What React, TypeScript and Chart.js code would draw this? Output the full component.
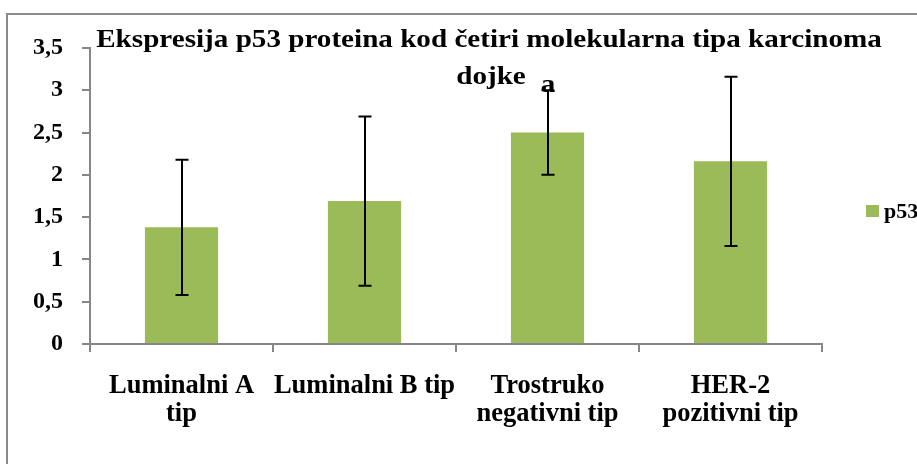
import React, { useEffect, useRef } from "react";
import { Chart, registerables } from "chart.js";

Chart.register(...registerables);

const titleLines = ["Ekspresija p53 proteina kod četiri molekularna tipa karcinoma", "dojke"];
const categories: (string | string[])[] = [
  ["Luminalni A", "tip"],
  "Luminalni B tip",
  ["Trostruko", "negativni tip"],
  ["HER-2", "pozitivni tip"],
];
const seriesName = "p53";
const p53Values = [1.38, 1.69, 2.5, 2.16];
const p53Errors = [0.8, 1.0, 0.5, 1.0];
const annotations = ["", "", "a", ""];
const yTicks = [0, 0.5, 1, 1.5, 2, 2.5, 3, 3.5];

const BAR_COLOR = "#9BBB59";
const AXIS_COLOR = "#868686";
const FONT = "'Liberation Serif', 'Times New Roman', serif";
const W = 917;
const H = 464;
const TITLE_SIZE = 25;
const TITLE_STRETCH = 1.165;

function stretchedText(ctx: CanvasRenderingContext2D, text: string, x: number, y: number, sx: number) {
  ctx.save();
  ctx.translate(x, y);
  ctx.scale(sx, 1);
  ctx.fillText(text, 0, 0);
  ctx.restore();
}

const overlayPlugin = {
  id: "overlay",
  afterDatasetsDraw(chart: any) {
    const ctx = chart.ctx;
    const meta = chart.getDatasetMeta(0);
    const y = chart.scales.y;
    ctx.save();
    ctx.strokeStyle = "#000";
    for (let i = 0; i < p53Values.length; i++) {
      const bar = meta.data[i];
      const x = Math.round(bar.x);
      const yt = y.getPixelForValue(p53Values[i] + p53Errors[i]);
      const yb = y.getPixelForValue(p53Values[i] - p53Errors[i]);
      const hw = 6.5;
      ctx.lineWidth = 2;
      ctx.beginPath();
      ctx.moveTo(x, yt);
      ctx.lineTo(x, yb);
      ctx.moveTo(x - hw, yt);
      ctx.lineTo(x + hw, yt);
      ctx.moveTo(x - hw, yb);
      ctx.lineTo(x + hw, yb);
      ctx.stroke();
      if (annotations[i]) {
        ctx.fillStyle = "#000";
        ctx.font = `bold ${TITLE_SIZE}px ${FONT}`;
        ctx.textAlign = "center";
        ctx.textBaseline = "alphabetic";
        stretchedText(ctx, annotations[i], x, yt + 1.5, TITLE_STRETCH);
      }
    }
    ctx.restore();
  },
  afterDraw(chart: any) {
    const ctx = chart.ctx;
    ctx.save();
    // outer chart-area border
    ctx.strokeStyle = "#8a8a8a";
    ctx.lineWidth = 2;
    ctx.beginPath();
    ctx.moveTo(7, H + 10);
    ctx.lineTo(7, 14);
    ctx.lineTo(W + 10, 14);
    ctx.stroke();
    // title
    ctx.fillStyle = "#000";
    ctx.font = `bold ${TITLE_SIZE}px ${FONT}`;
    ctx.textAlign = "center";
    ctx.textBaseline = "alphabetic";
    stretchedText(ctx, titleLines[0], 489, 47, TITLE_STRETCH);
    stretchedText(ctx, titleLines[1], 491, 84, TITLE_STRETCH);
    // legend
    ctx.fillStyle = BAR_COLOR;
    ctx.fillRect(866, 205, 13, 12);
    ctx.fillStyle = "#000";
    ctx.font = `bold 22px ${FONT}`;
    ctx.textAlign = "left";
    ctx.textBaseline = "middle";
    ctx.fillText(seriesName, 884, 212);
    ctx.restore();
  },
};

export default function App() {
  const ref = useRef<HTMLCanvasElement>(null);
  useEffect(() => {
    const canvas = ref.current!;
    const chart = new Chart(canvas, {
      type: "bar",
      data: {
        labels: categories,
        datasets: [
          {
            label: seriesName,
            data: p53Values,
            backgroundColor: BAR_COLOR,
            borderWidth: 0,
            barPercentage: 0.4,
            categoryPercentage: 1,
          },
        ],
      },
      options: {
        responsive: false,
        animation: false,
        devicePixelRatio: 1,
        layout: { padding: { top: 48, left: 0, right: W - 822, bottom: 0 } },
        plugins: {
          legend: { display: false },
          title: { display: false },
          tooltip: { enabled: false },
        },
        scales: {
          x: {
            grid: {
              display: true,
              drawOnChartArea: false,
              offset: true,
              tickLength: 8,
              color: AXIS_COLOR,
              lineWidth: 2,
            },
            border: { display: true, color: AXIS_COLOR, width: 2 },
            ticks: {
              color: "#000",
              font: { family: FONT, size: 26.5, weight: "bold", lineHeight: 1.07 },
              maxRotation: 0,
              autoSkip: false,
              padding: 20,
            },
            afterFit(scale: any) {
              scale.height = H - 344;
            },
          },
          y: {
            min: 0,
            max: 3.5,
            afterBuildTicks(scale: any) {
              scale.ticks = yTicks.map((v) => ({ value: v }));
            },
            grid: {
              display: true,
              drawOnChartArea: false,
              tickLength: 8,
              color: AXIS_COLOR,
              lineWidth: 2,
            },
            border: { display: true, color: AXIS_COLOR, width: 2 },
            ticks: {
              color: "#000",
              font: { family: FONT, size: 24, weight: "bold" },
              padding: 19,
              callback: (v: any) => String(v).replace(".", ","),
            },
            afterFit(scale: any) {
              scale.width = 90;
            },
          },
        },
      },
      plugins: [overlayPlugin],
    });
    return () => chart.destroy();
  }, []);
  return (
    <div style={{ position: "fixed", left: 0, top: 0, width: W, height: H, background: "#fff", overflow: "hidden" }}>
      <canvas ref={ref} width={W} height={H} style={{ width: W + "px", height: H + "px", display: "block" }} />
    </div>
  );
}
